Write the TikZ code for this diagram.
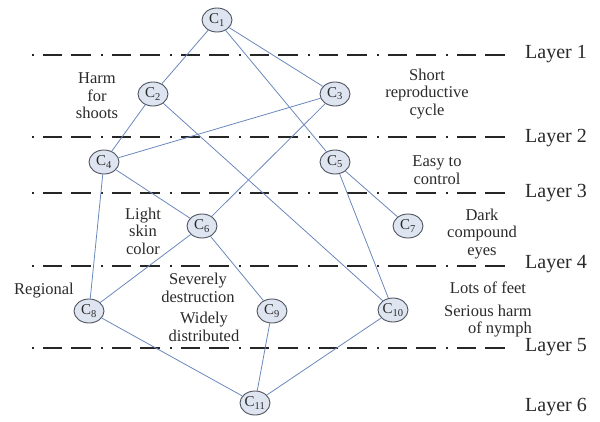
\documentclass[tikz,border=0pt]{standalone}
\usepackage{fontspec}
\setmainfont{Liberation Serif}
\usetikzlibrary{shapes.geometric}
\definecolor{nodefill}{HTML}{DFE5F0}
\definecolor{nodedraw}{HTML}{505560}
\definecolor{edgecol}{HTML}{6A88BC}
\definecolor{txt}{HTML}{2A2A2A}
\begin{document}
\begin{tikzpicture}[x=1pt,y=-1pt,
  cnode/.style={ellipse,draw=nodedraw,line width=0.9pt,fill=nodefill,minimum width=30pt,minimum height=24pt,inner sep=0pt,text=txt,font=\fontsize{15}{15}\selectfont},
  edge/.style={draw=edgecol,line width=0.8pt},
  layerline/.style={draw=black!85,line width=2pt,dash pattern=on 2pt off 9pt on 19pt off 9pt on 20pt off 10pt},
  layerlab/.style={anchor=west,text=txt,font=\fontsize{20}{20}\selectfont,inner sep=0pt},
  lab/.style={align=center,text=txt,font=\fontsize{16.5}{17.5}\selectfont,inner sep=0pt}]
\useasboundingbox (0,0) rectangle (600,421);
% layer lines
\coordinate (l1a) at (32,55); \coordinate (l1b) at (505,55);
\coordinate (l2a) at (32,137); \coordinate (l2b) at (505,137);
\coordinate (l3a) at (32,193); \coordinate (l3b) at (505,193);
\coordinate (l4a) at (32,266); \coordinate (l4b) at (505,266);
\coordinate (l5a) at (32,348); \coordinate (l5b) at (505,348);
\draw[layerline] (l1a) -- (l1b);
\draw[layerline] (l2a) -- (l2b);
\draw[layerline] (l3a) -- (l3b);
\draw[layerline] (l4a) -- (l4b);
\draw[layerline] (l5a) -- (l5b);
\node[layerlab] (L1) at (525,54) {Layer 1};
\node[layerlab] (L2) at (525,138) {Layer 2};
\node[layerlab] (L3) at (525,193) {Layer 3};
\node[layerlab] (L4) at (525,264) {Layer 4};
\node[layerlab] (L5) at (525,347) {Layer 5};
\node[layerlab] (L6) at (525,407) {Layer 6};
% nodes
\node[cnode] (c1) at (217,20) {C\textsubscript{1}};
\node[cnode] (c2) at (153,94) {C\textsubscript{2}};
\node[cnode] (c3) at (335,94) {C\textsubscript{3}};
\node[cnode] (c4) at (104,162) {C\textsubscript{4}};
\node[cnode] (c5) at (335,162) {C\textsubscript{5}};
\node[cnode] (c6) at (202,226) {C\textsubscript{6}};
\node[cnode] (c7) at (408,226) {C\textsubscript{7}};
\node[cnode] (c8) at (89,311) {C\textsubscript{8}};
\node[cnode] (c9) at (272,311) {C\textsubscript{9}};
\node[cnode] (c10) at (393,310) {C\textsubscript{10}};
\node[cnode] (c11) at (255,403) {C\textsubscript{11}};
% edges
\draw[edge] (c1) -- (c2);
\draw[edge] (c1) -- (c3);
\draw[edge] (c1) -- (c5);
\draw[edge] (c2) -- (c4);
\draw[edge] (c2) -- (c10);
\draw[edge] (c3) -- (c4);
\draw[edge] (c3) -- (c6);
\draw[edge] (c4) -- (c6);
\draw[edge] (c4) -- (c8);
\draw[edge] (c5) -- (c7);
\draw[edge] (c5) -- (c10);
\draw[edge] (c6) -- (c8);
\draw[edge] (c6) -- (c9);
\draw[edge] (c8) -- (c11);
\draw[edge] (c9) -- (c11);
\draw[edge] (c10) -- (c11);
% labels
\node[lab] (t1) at (97,96) {Harm\\for\\shoots};
\node[lab] (t2) at (427,94) {Short\\reproductive\\cycle};
\node[lab] (t3) at (437,170) {Easy to\\control};
\node[lab] (t4) at (143,231) {Light\\skin\\color};
\node[lab] (t5) at (482,234) {Dark\\compound\\eyes};
\node[lab] (t6) at (44,291) {Regional};
\node[lab] (t7) at (198,288) {Severely\\destruction};
\node[lab] (t8) at (204,327) {Widely\\distributed};
\node[lab] (t9) at (488,288) {Lots of feet};
\node[lab,align=right] (t10) at (488,321) {Serious harm\\of nymph};
\end{tikzpicture}
\end{document}
